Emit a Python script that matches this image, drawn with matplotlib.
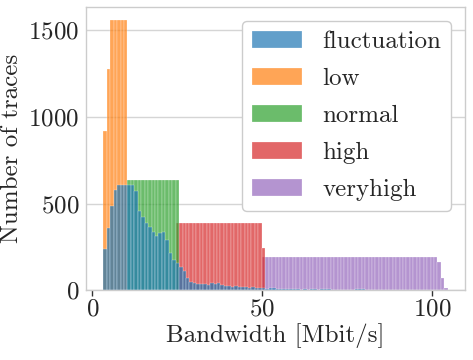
"""Bandwidth histogram per trace class."""

import matplotlib
matplotlib.use("Agg")
import matplotlib.pyplot as plt
import numpy as np

# shared histogram bins
BIN_LO = 3.2
BIN_HI = 104.5
N_BINS = 100

LABELS = ["fluctuation", "low", "normal", "high", "veryhigh"]
COLORS = ["#1f77b4", "#ff7f0e", "#2ca02c", "#d62728", "#9467bd"]

# counts per bin, each list starts at the given bin index
fluctuation_start = 0
fluctuation = [
    235, 357, 486, 580, 604, 604, 604, 604, 604, 570,
    459, 420, 390, 363, 338, 315, 328, 338, 290, 212,
    174, 158, 135, 110, 68, 48, 39, 33, 34, 33,
    29, 39, 33, 39, 29, 25, 25, 21, 25, 17,
    17, 21, 15, 17, 14, 14, 12, 8, 15, 15,
    6, 5, 4, 5, 8, 8, 4, 3, 4, 3,
    8, 8, 3, 4, 8, 7, 3, 3, 2, 3,
    2, 3, 2, 6, 6, 6, 2, 2, 1, 1,
    1, 1, 0, 1, 0, 0, 1, 0, 0, 0,
    0, 0, 0, 0, 0, 0, 0, 0, 0, 0,
]
low_start = 0
low = [917, 1278, 1557, 1557, 1557, 1557, 1557]
normal_start = 7
normal = [637] * 15
high_start = 21
high = [390] * 25 + [241]
veryhigh_start = 46
veryhigh = [189] * 51 + [160, 68, 10]

SERIES = {
    "fluctuation": (fluctuation_start, fluctuation),
    "low": (low_start, low),
    "normal": (normal_start, normal),
    "high": (high_start, high),
    "veryhigh": (veryhigh_start, veryhigh),
}

plt.rcParams.update({
    "font.family": "serif",
    "font.serif": ["cmr10", "DejaVu Serif"],
    "mathtext.fontset": "cm",
    "axes.formatter.use_mathtext": True,
    "font.size": 18,
    "axes.edgecolor": "#cccccc",
    "axes.linewidth": 1.0,
    "grid.color": "#d5d5d5",
    "grid.linewidth": 1.0,
    "xtick.color": "#262626",
    "ytick.color": "#262626",
    "text.color": "#262626",
    "axes.labelcolor": "#262626",
})

edges = np.linspace(BIN_LO, BIN_HI, N_BINS + 1)
width = edges[1] - edges[0]

fig = plt.figure(figsize=(4.73, 3.6), dpi=100)
ax = fig.add_axes([0.182, 0.194, 0.801, 0.787])

handles = {}
# last hue is drawn first, like seaborn's layered histogram
for label, color in reversed(list(zip(LABELS, COLORS))):
    start, counts = SERIES[label]
    counts = np.asarray(counts, dtype=float)
    left = edges[start:start + len(counts)]
    bars = ax.bar(left, counts, width=width, align="edge", color=color,
                  alpha=0.7, edgecolor="white", linewidth=0.25)
    handles[label] = bars

ax.set_ylim(0, None)
ax.margins(x=0.05)
ax.set_xticks([0, 50, 100])
ax.set_yticks([0, 500, 1000, 1500])
ax.grid(axis="y")
ax.set_axisbelow(True)
ax.tick_params(axis="x", length=4, width=1, color="#333333", pad=2)
ax.tick_params(axis="y", length=0, pad=5)
ax.set_xlabel("Bandwidth [Mbit/s]", labelpad=2)
ax.set_ylabel("Number of traces", labelpad=4)

leg = ax.legend([handles[l] for l in LABELS], LABELS, loc="upper right",
                frameon=True, fancybox=True, framealpha=1.0,
                edgecolor="#cccccc", borderaxespad=0.55, labelspacing=0.58)

fig.savefig("out.png", dpi=100)
plt.close(fig)
